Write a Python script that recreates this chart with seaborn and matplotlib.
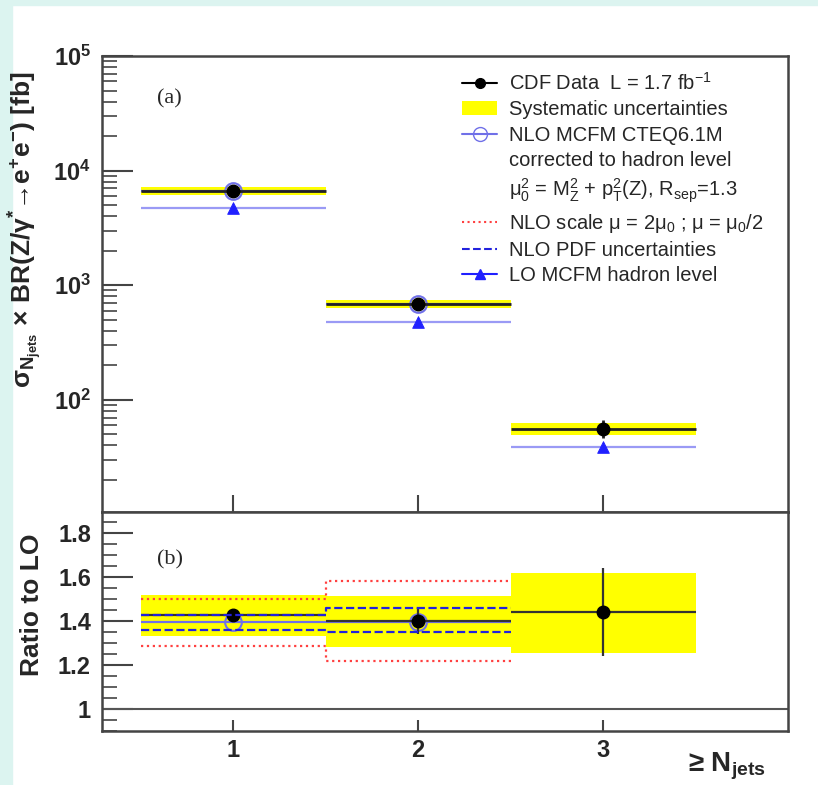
import seaborn as sns
import matplotlib
matplotlib.use('Agg')
import matplotlib.pyplot as plt
from matplotlib.lines import Line2D
from matplotlib.patches import Patch, Rectangle
from matplotlib.ticker import FixedLocator, FixedFormatter, LogLocator, MultipleLocator, NullFormatter
import pandas as pd

sns.set_theme(style='ticks')
plt.rcParams['font.family'] = ['Liberation Sans', 'DejaVu Sans']
plt.rcParams['mathtext.fontset'] = 'custom'
plt.rcParams['mathtext.rm'] = 'Liberation Sans'
plt.rcParams['mathtext.it'] = 'Liberation Sans:italic'
plt.rcParams['mathtext.bf'] = 'Liberation Sans:bold'
plt.rcParams['mathtext.default'] = 'regular'

# ---- data ----
n_jets = [1, 2, 3]
bin_edges = [0.5, 1.5, 2.5, 3.5]

xsec_data = [6700, 680, 56]
xsec_err_lo = [120, 15, 9.5]
xsec_err_hi = [120, 15, 11]
xsec_sys_lo = [6120, 628, 49.3]
xsec_sys_hi = [7130, 738, 62.8]
xsec_nlo = [6600, 690]
xsec_lo = [4730, 473, 38.7]

ratio_data = [1.425, 1.40, 1.44]
ratio_err = [0.01, 0.06, 0.20]
ratio_sys_lo = [1.33, 1.28, 1.255]
ratio_sys_hi = [1.52, 1.515, 1.62]
ratio_nlo = [1.395, 1.395]
scale_lo = [1.285, 1.22]
scale_hi = [1.50, 1.58]
pdf_lo = [1.36, 1.35]
pdf_hi = [1.427, 1.46]

YELLOW = '#ffff00'
NLO_COL = '#7070e8'
LO_LINE = '#9a9af5'
LO_MARK = '#2020ff'
SCALE_COL = '#ff4040'
PDF_COL = '#2222dd'
FRAME = '#444444'

W, H = 818, 785
fig = plt.figure(figsize=(W / 100, H / 100), dpi=100)
fig.patch.set_facecolor('white')
fig.patches.append(Rectangle((0, 0), 12 / W, 1, transform=fig.transFigure, color='#dcf4f0', zorder=-10))
fig.patches.append(Rectangle((0, 1 - 5 / H), 1, 5 / H, transform=fig.transFigure, color='#dcf4f0', zorder=-10))

ax1 = fig.add_axes([102 / W, 1 - 512 / H, 686 / W, 456 / H])
ax2 = fig.add_axes([102 / W, 1 - 731 / H, 686 / W, 219 / H])

for ax in (ax1, ax2):
    for s in ax.spines.values():
        s.set_color(FRAME)
        s.set_linewidth(1.8)
    ax.set_xlim(0.29, 4.0)

# ---- upper panel ----
ax1.set_yscale('log')
ax1.set_ylim(10.5, 1e5)
df_up = pd.DataFrame({'n': n_jets, 'lo': xsec_sys_lo, 'hi': xsec_sys_hi})
ax1.bar(df_up['n'], df_up['hi'] - df_up['lo'], bottom=df_up['lo'], width=1.0,
        color=YELLOW, linewidth=0, zorder=1)
ax1.hlines(xsec_lo, [e - 0.5 for e in n_jets], [e + 0.5 for e in n_jets],
           color=LO_LINE, lw=1.6, zorder=2)
sns.scatterplot(x=n_jets, y=xsec_lo, ax=ax1, marker='^', s=70, color=LO_MARK,
                edgecolor=LO_MARK, zorder=3, legend=False)
ax1.hlines(xsec_nlo, [e - 0.5 for e in n_jets[:2]], [e + 0.5 for e in n_jets[:2]],
           color=NLO_COL, lw=1.6, zorder=2)
ax1.plot(n_jets[:2], xsec_nlo, 'o', ms=12, mfc='none', mec=NLO_COL, mew=1.5, zorder=3)
ax1.errorbar(n_jets, xsec_data, xerr=0.5, yerr=[xsec_err_lo, xsec_err_hi], fmt='o',
             color='black', ecolor='#222222', ms=9, lw=2, capsize=0, zorder=4)

ax1.yaxis.set_major_locator(FixedLocator([1e2, 1e3, 1e4, 1e5]))
ax1.yaxis.set_major_formatter(FixedFormatter([r'$\mathbf{10^{2}}$', r'$\mathbf{10^{3}}$',
                                              r'$\mathbf{10^{4}}$', r'$\mathbf{10^{5}}$']))
ax1.yaxis.set_minor_locator(LogLocator(base=10, subs=range(2, 10), numticks=20))
ax1.yaxis.set_minor_formatter(NullFormatter())
ax1.set_xticks(n_jets)
ax1.set_xticklabels([])
ax1.tick_params(axis='y', which='major', direction='in', length=22, width=1.5,
                color=FRAME, labelsize=17, pad=8)
ax1.tick_params(axis='y', which='minor', direction='in', length=11, width=1.2, color=FRAME)
ax1.tick_params(axis='x', which='major', direction='in', length=12, width=1.5, color=FRAME)
ax1.tick_params(axis='x', which='minor', bottom=False)
ax1.set_ylabel(r'$\sigma_{N_{jets}}$ × BR(Z/γ$^{*}$→e$^{+}$e$^{-}$) [fb]',
               fontsize=19, fontweight='bold')
ax1.yaxis.set_label_coords(-0.085, 0.62)
ax1.text(0.08, 0.905, '(a)', transform=ax1.transAxes, fontsize=16,
         family='Liberation Serif', va='center')

handles = [
    Line2D([], [], color='black', marker='o', ms=7, lw=1.5),
    Patch(facecolor=YELLOW, edgecolor='none'),
    Line2D([], [], color=NLO_COL, marker='o', ms=10, mfc='none', lw=1.5),
    Line2D([], [], color='none'),
    Line2D([], [], color='none'),
    Line2D([], [], color=SCALE_COL, ls=':', lw=1.5),
    Line2D([], [], color=PDF_COL, ls='--', lw=1.5),
    Line2D([], [], color=LO_MARK, marker='^', ms=7, lw=1.5),
]
labels = [
    r'CDF Data  L = 1.7 fb$^{-1}$',
    'Systematic uncertainties',
    'NLO MCFM CTEQ6.1M',
    'corrected to hadron level',
    r'$\mu_0^2$ = M$_Z^2$ + p$_T^2$(Z), R$_{sep}$=1.3',
    r'NLO scale $\mu$ = 2$\mu_0$ ; $\mu$ = $\mu_0$/2',
    'NLO PDF uncertainties',
    'LO MCFM hadron level',
]
ax1.legend(handles, labels, loc='upper left', bbox_to_anchor=(452 / W, 1 - 62 / H),
           bbox_transform=fig.transFigure, frameon=False, fontsize=14.5, borderpad=0,
           handlelength=1.75, handletextpad=0.6, labelspacing=0.32)

# ---- lower panel (ratio to LO) ----
ax2.set_ylim(0.9, 1.895)
ax2.axhline(1.0, color='#555555', lw=1.5, zorder=1)
df_lo = pd.DataFrame({'n': n_jets, 'lo': ratio_sys_lo, 'hi': ratio_sys_hi})
ax2.bar(df_lo['n'], df_lo['hi'] - df_lo['lo'], bottom=df_lo['lo'], width=1.0,
        color=YELLOW, linewidth=0, zorder=1)
edges2 = bin_edges[:3]
ax2.step(edges2, scale_hi + scale_hi[-1:], where='post', color=SCALE_COL, ls=':', lw=1.6, zorder=2)
ax2.step(edges2, scale_lo + scale_lo[-1:], where='post', color=SCALE_COL, ls=':', lw=1.6, zorder=2)
ax2.hlines(ratio_nlo, [e - 0.5 for e in n_jets[:2]], [e + 0.5 for e in n_jets[:2]],
           color=NLO_COL, lw=1.6, zorder=2)
ax2.plot(n_jets[:2], ratio_nlo, 'o', ms=12, mfc='none', mec=NLO_COL, mew=1.5, zorder=3)
ax2.errorbar(n_jets, ratio_data, xerr=0.5, yerr=ratio_err, fmt='o', color='black',
             ecolor='#333333', ms=9, lw=1.6, capsize=0, zorder=4)
ax2.step(edges2, pdf_hi + pdf_hi[-1:], where='post', color=PDF_COL, ls='--', lw=1.6, zorder=5)
ax2.step(edges2, pdf_lo + pdf_lo[-1:], where='post', color=PDF_COL, ls='--', lw=1.6, zorder=5)

ax2.yaxis.set_major_locator(FixedLocator([1.0, 1.2, 1.4, 1.6, 1.8]))
ax2.yaxis.set_major_formatter(FixedFormatter(['1', '1.2', '1.4', '1.6', '1.8']))
ax2.yaxis.set_minor_locator(MultipleLocator(0.05))
ax2.set_xticks(n_jets)
ax2.set_xticklabels(['1', '2', '3'])
for lab in ax2.get_xticklabels() + ax2.get_yticklabels():
    lab.set_fontweight('bold')
ax2.tick_params(axis='y', which='major', direction='in', length=22, width=1.5,
                color=FRAME, labelsize=17, pad=8)
ax2.tick_params(axis='y', which='minor', direction='in', length=11, width=1.2, color=FRAME)
ax2.tick_params(axis='x', which='major', direction='in', length=8, width=1.5,
                color=FRAME, labelsize=17, pad=6)
ax2.tick_params(axis='x', which='minor', bottom=False)
ax2.set_ylabel('Ratio to LO', fontsize=19, fontweight='bold')
ax2.yaxis.set_label_coords(-0.085, 0.575)
ax2.text(0.08, 0.78, '(b)', transform=ax2.transAxes, fontsize=16,
         family='Liberation Serif', va='center')

fig.text(766 / W, 1 - 766 / H, r'≥ N$_{jets}$', fontsize=20, fontweight='bold',
         ha='right', va='center')

plt.savefig('out.png', dpi=100)
